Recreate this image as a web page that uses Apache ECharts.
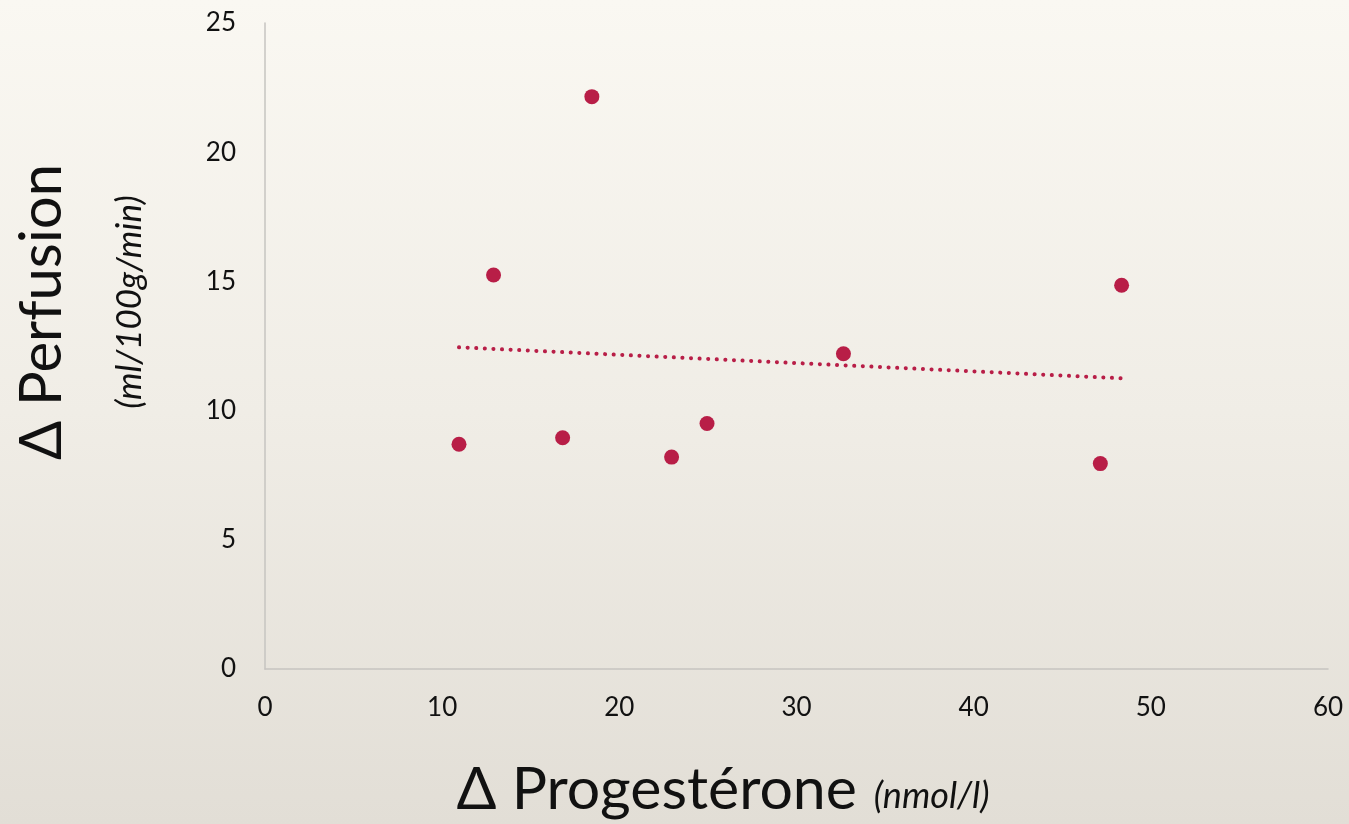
<!DOCTYPE html>
<html>
<head>
<meta charset="utf-8">
<title>Perfusion vs Progestérone</title>
<script src="https://cdn.jsdelivr.net/npm/echarts@6/dist/echarts.min.js"></script>
<style>
  html, body { margin: 0; padding: 0; }
  body {
    width: 1349px;
    height: 824px;
    background: linear-gradient(to bottom, #faf8f2 0%, #f0ede6 50%, #e2ded6 100%);
  }
  #chart { width: 1349px; height: 824px; }
</style>
</head>
<body>
<div id="chart" role="img" aria-label="Delta perfusion versus delta progesterone scatter chart"></div>
<script>
// values
const progesterone = [10.95, 12.9, 16.8, 18.45, 22.95, 24.95, 32.65, 47.15, 48.35];
const perfusion = [8.7, 15.25, 8.95, 22.15, 8.2, 9.5, 12.2, 7.95, 14.85];
const trendX = [10.95, 48.35];
const trendY = [12.45, 11.25];
const xTicks = [0, 10, 20, 30, 40, 50, 60];
const yTicks = [0, 5, 10, 15, 20, 25];

const red = "#b81e47";
const font = "Lato";

const chart = echarts.init(document.getElementById("chart"), null, { renderer: "canvas" });

chart.setOption({
  backgroundColor: "transparent",
  animation: false,
  textStyle: { fontFamily: font },
  grid: {
    left: 265,
    right: 21,
    top: 23,
    bottom: 155,
  },
  xAxis: {
    type: "value",
    min: xTicks[0],
    max: xTicks[xTicks.length - 1],
    interval: 10,
    axisLine: { lineStyle: { color: "#c6c4c0", width: 1.5 } },
    axisTick: { show: false },
    splitLine: { show: false },
    axisLabel: {
      color: "#111",
      fontSize: 26,
      fontFamily: font,
      margin: 26,
    },
  },
  yAxis: {
    type: "value",
    min: yTicks[0],
    max: yTicks[yTicks.length - 1],
    interval: 5,
    axisLine: { show: true, lineStyle: { color: "#c6c4c0", width: 1.5 } },
    axisTick: { show: false },
    splitLine: { show: false },
    axisLabel: {
      color: "#111",
      fontSize: 26,
      fontFamily: font,
      margin: 29,
    },
  },
  graphic: [
    {
      type: "text",
      x: 42,
      y: 312,
      rotation: Math.PI / 2,
      style: {
        text: "Δ Perfusion",
        font: "58px Lato",
        fill: "#111",
        textAlign: "center",
        textVerticalAlign: "middle",
      },
    },
    {
      type: "text",
      x: 130,
      y: 302,
      rotation: Math.PI / 2,
      style: {
        text: "(ml/100g/min)",
        font: "italic 35px Lato",
        fill: "#111",
        textAlign: "center",
        textVerticalAlign: "middle",
      },
    },
    {
      type: "text",
      x: 723,
      y: 790,
      style: {
        text: "{big|Δ Progestérone}{small|  (nmol/l)}",
        textAlign: "center",
        textVerticalAlign: "middle",
        rich: {
          big: { font: "59px Lato", fill: "#111" },
          small: { font: "italic 36px Lato", fill: "#111", padding: [12, 0, 0, 0] },
        },
      },
    },
  ],
  series: [
    {
      type: "line",
      data: trendX.map((x, i) => [x, trendY[i]]),
      showSymbol: false,
      silent: true,
      lineStyle: {
        color: red,
        width: 4,
        type: [0.1, 8.5],
        cap: "round",
      },
      z: 2,
    },
    {
      type: "scatter",
      data: progesterone.map((x, i) => [x, perfusion[i]]),
      symbolSize: 15,
      itemStyle: { color: red, opacity: 1 },
      z: 3,
    },
  ],
});

window.addEventListener("resize", () => chart.resize());
</script>
</body>
</html>
